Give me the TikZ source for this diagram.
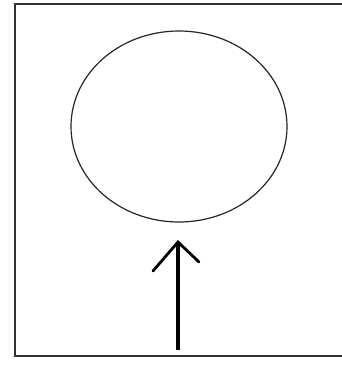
\documentclass[tikz,border=0pt]{standalone}
\usetikzlibrary{shapes.geometric}
\begin{document}
\begin{tikzpicture}[x=1pt,y=-1pt,
  frame/.style={draw=black!80,line width=2.2pt},
  ring/.style={draw=black!85,line width=1.2pt,ellipse,minimum width=216pt,minimum height=191pt,inner sep=0pt},
  shaft/.style={draw=black,line width=3.2pt},
  barb/.style={draw=black,line width=2.8pt,line cap=round}]
\useasboundingbox (0,0) rectangle (342,367);
\fill[white] (0,0) rectangle (342,367);
\coordinate (tr) at (344,4);
\coordinate (tl) at (15,4);
\coordinate (bl) at (15,356);
\coordinate (br) at (344,356);
\draw[frame] (tr) -- (tl) -- (bl) -- (br);
\node[ring] (circ) at (179,126.5) {};
\coordinate (tail) at (178,350);
\coordinate (tip) at (178,242);
\coordinate (hl) at (153,271);
\coordinate (hr) at (199,262);
\draw[shaft] (tail) -- (tip);
\draw[barb] (hl) -- (tip) -- (hr);
\end{tikzpicture}
\end{document}
